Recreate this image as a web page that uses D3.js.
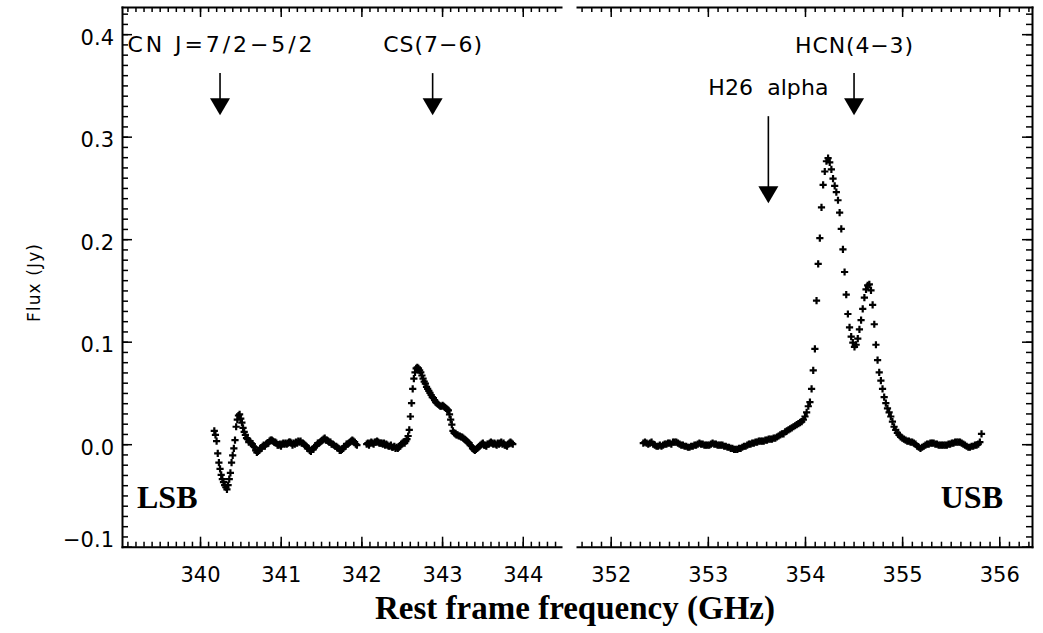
<!DOCTYPE html>
<html>
<head>
<meta charset="utf-8">
<title>LSB / USB spectrum</title>
<script src="https://cdn.jsdelivr.net/npm/d3@7"></script>
<style>
  body { margin: 0; background: #fff; }
  .axis path, .axis line { stroke: #000; }
  .axis path { stroke-width: 2px; stroke-linecap: square; }
  .axis line { stroke-width: 1.5px; }
  .axis text { font-family: "DejaVu Sans", sans-serif; font-size: 21px; fill: #000; }
  .note { font-family: "DejaVu Sans", sans-serif; font-size: 22px; fill: #000; }
  .band { font-family: "Liberation Serif", "Times New Roman", serif; font-weight: bold; font-size: 32px; fill: #000; }
</style>
</head>
<body>
<div class="chart"></div>
<script>
var svgWidth = 1043;
var svgHeight = 633;

// channel grids (GHz)
var lsbStart1 = 340.177;
var lsbStart2 = 342.066;
var lsbStep = 0.014254;
var usbStart = 352.3356;
var usbStep = 0.016984;

// LSB window 1 (CN)
var lsbFlux1 = [
  0.013, 0.009, 0.003, -0.009, -0.018, -0.024, -0.030, -0.034, -0.037, -0.040,
  -0.042, -0.044, -0.040, -0.034, -0.028, -0.018, -0.011, -0.004, 0.004, 0.017,
  0.024, 0.028, 0.029, 0.025, 0.021, 0.016, 0.012, 0.009, 0.006, 0.005,
  0.002, 0.003, 0.001, 0.000, -0.002, -0.003, -0.006, -0.008, -0.007, -0.006,
  -0.004, -0.004, -0.002, -0.001, -0.002, 0.000, 0.001, 0.001, 0.003, 0.004,
  0.004, 0.003, 0.002, 0.002, 0.001, -0.001, -0.001, 0.000, -0.002, 0.000,
  0.001, 0.000, 0.001, 0.000, 0.001, 0.002, 0.002, 0.001, -0.001, 0.001,
  0.000, 0.002, 0.001, 0.003, 0.002, 0.003, 0.001, 0.001, 0.000, -0.001,
  -0.002, -0.004, -0.004, -0.006, -0.007, -0.005, -0.005, -0.003, -0.002, -0.001,
  0.001, 0.001, 0.002, 0.003, 0.004, 0.005, 0.006, 0.004, 0.004, 0.003,
  0.002, 0.002, 0.000, 0.000, -0.001, -0.002, -0.002, -0.003, -0.004, -0.006,
  -0.006, -0.005, -0.004, -0.002, -0.002, 0.000, 0.000, 0.001, 0.002, 0.003,
  0.004, 0.003, 0.002, 0.000, -0.001
];

// LSB window 2 (CS)
var lsbFlux2 = [
  0.000, 0.001, -0.001, 0.001, 0.002, 0.001, 0.000, 0.002, 0.002, 0.003,
  0.002, 0.001, 0.001, 0.001, 0.000, 0.001, -0.001, 0.000, -0.001, -0.002,
  -0.002, -0.001, -0.003, -0.003, -0.002, -0.004, -0.003, -0.004, -0.003, -0.002,
  0.000, 0.001, 0.002, 0.001, 0.003, 0.005, 0.008, 0.014, 0.027, 0.040,
  0.054, 0.064, 0.070, 0.074, 0.075, 0.074, 0.072, 0.070, 0.067, 0.064,
  0.061, 0.059, 0.056, 0.054, 0.052, 0.050, 0.048, 0.046, 0.045, 0.043,
  0.041, 0.040, 0.039, 0.038, 0.037, 0.037, 0.038, 0.037, 0.036, 0.035,
  0.034, 0.033, 0.029, 0.024, 0.019, 0.013, 0.011, 0.010, 0.009, 0.009,
  0.008, 0.008, 0.007, 0.007, 0.006, 0.005, 0.004, 0.003, 0.002, 0.001,
  -0.001, -0.002, -0.004, -0.005, -0.006, -0.005, -0.004, -0.003, -0.002, -0.001,
  0.000, 0.001, -0.001, -0.001, -0.002, 0.000, 0.000, 0.001, 0.002, 0.001,
  0.000, 0.001, 0.000, -0.001, 0.001, 0.000, 0.001, 0.002, 0.000, 0.001,
  -0.001, -0.001, -0.002, 0.000, 0.001, 0.002, 0.001, 0.000
];

// USB window (H26 alpha + HCN)
var usbFlux = [
  0.001, 0.002, 0.001, 0.000, 0.001, 0.002, 0.000, -0.001, -0.002, -0.002,
  -0.001, -0.002, -0.001, 0.000, 0.000, 0.001, 0.001, 0.000, 0.002, 0.002,
  0.002, 0.001, 0.000, -0.001, -0.001, -0.002, -0.002, -0.003, -0.003, -0.002,
  -0.002, -0.001, -0.001, 0.000, 0.001, 0.000, 0.000, -0.001, -0.001, -0.001,
  -0.001, 0.000, 0.001, 0.000, 0.000, -0.001, -0.001, -0.001, -0.001, -0.002,
  -0.002, -0.003, -0.003, -0.004, -0.004, -0.005, -0.005, -0.005, -0.004, -0.004,
  -0.003, -0.002, -0.002, -0.001, 0.000, 0.000, 0.001, 0.001, 0.002, 0.002,
  0.003, 0.003, 0.003, 0.003, 0.004, 0.004, 0.005, 0.005, 0.005, 0.006,
  0.006, 0.007, 0.008, 0.009, 0.010, 0.010, 0.012, 0.013, 0.014, 0.015,
  0.016, 0.017, 0.018, 0.019, 0.020, 0.021, 0.022, 0.024, 0.027, 0.031,
  0.037, 0.041, 0.054, 0.072, 0.093, 0.140, 0.176, 0.201, 0.231, 0.253,
  0.266, 0.276, 0.279, 0.275, 0.268, 0.259, 0.252, 0.246, 0.238, 0.226,
  0.210, 0.190, 0.168, 0.146, 0.127, 0.114, 0.105, 0.099, 0.095, 0.097,
  0.103, 0.112, 0.121, 0.132, 0.143, 0.151, 0.155, 0.156, 0.150, 0.136,
  0.117, 0.097, 0.082, 0.070, 0.062, 0.054, 0.046, 0.040, 0.035, 0.031,
  0.027, 0.022, 0.017, 0.014, 0.011, 0.009, 0.007, 0.006, 0.005, 0.004,
  0.003, 0.003, 0.002, 0.002, 0.001, 0.000, -0.002, -0.003, -0.004, -0.003,
  -0.002, -0.001, 0.000, 0.000, 0.001, 0.001, 0.001, 0.000, 0.000, -0.001,
  -0.001, -0.001, -0.001, -0.001, -0.001, 0.000, 0.000, 0.001, 0.001, 0.002,
  0.002, 0.002, 0.002, 0.001, 0.000, -0.001, -0.002, -0.003, -0.003, -0.002,
  -0.002, -0.001, -0.001, 0.000, 0.002, 0.010
];

// tick labels
var lsbTicks = [340, 341, 342, 343, 344];
var usbTicks = [352, 353, 354, 355, 356];
var fluxTicks = [-0.1, 0.0, 0.1, 0.2, 0.3, 0.4];

// line identifications (rest frequency, GHz)
var lineNames = ["CN J=7/2\u22125/2", "CS(7\u22126)", "H26  alpha", "HCN(4\u22123)"];
var lineFreqs = [340.248, 342.883, 353.623, 354.505];
var lineBands = ["lsb", "lsb", "usb", "usb"];

// annotation layout (flux units for arrow ends, pixels for text)
var arrowTop = [0.362, 0.362, 0.320, 0.362];
var arrowTip = [0.321, 0.321, 0.235, 0.321];
var labelBase = [52, 52, 95, 53];
var labelWidth = [185, 99, 120, 118];

var plotTop = 7, plotBottom = 546.7;

var svg = d3.select(".chart")
  .append("svg")
  .attr("width", svgWidth)
  .attr("height", svgHeight);

var yScale = d3.scaleLinear()
  .domain([-0.1, 0.4265])
  .range([plotBottom, plotTop]);

var xLsb = d3.scaleLinear()
  .domain([339.033, 344.474])
  .range([122, 561]);

var xUsb = d3.scaleLinear()
  .domain([351.653, 356.337])
  .range([577, 1032]);

// minor ticks every 0.1 GHz / 0.01 Jy
function minorTicks(scale, div) {
  var dom = scale.domain();
  return d3.range(Math.ceil(dom[0] * div), Math.floor(dom[1] * div) + 1).map(d => d / div);
}

function addAxis(axis, tx, ty, cls) {
  return svg.append("g")
    .attr("class", "axis " + (cls || ""))
    .attr("transform", `translate(${tx}, ${ty})`)
    .call(axis);
}

function drawFrame(xScale, majors, side) {
  var xr = xScale.range();
  var xMinor = minorTicks(xScale, 10);

  // bottom axis with labels
  var bottom = addAxis(d3.axisBottom(xScale).tickValues(majors).tickSize(-10).tickSizeOuter(0)
    .tickFormat(d3.format("d")), 0, plotBottom);
  bottom.selectAll("text").attr("y", 35).attr("dy", null);
  addAxis(d3.axisBottom(xScale).tickValues(xMinor).tickSize(-5).tickSizeOuter(0).tickFormat(""), 0, plotBottom)
    .select(".domain").remove();

  // top axis
  addAxis(d3.axisTop(xScale).tickValues(majors).tickSize(-10).tickSizeOuter(0).tickFormat(""), 0, plotTop);
  addAxis(d3.axisTop(xScale).tickValues(xMinor).tickSize(-5).tickSizeOuter(0).tickFormat(""), 0, plotTop)
    .select(".domain").remove();

  var yMinor = minorTicks(yScale, 100);
  if (side === "left") {
    var left = addAxis(d3.axisLeft(yScale).tickValues(fluxTicks).tickSize(-10).tickSizeOuter(0)
      .tickPadding(8).tickFormat(d3.format(".1f")), xr[0], 0);
    // keep the lowest label above the x axis
    left.selectAll("text")
      .attr("dy", null)
      .attr("y", d => Math.min(10, plotBottom - yScale(d)));
    addAxis(d3.axisLeft(yScale).tickValues(yMinor).tickSize(-6).tickSizeOuter(0).tickFormat(""), xr[0], 0)
      .select(".domain").remove();
  } else {
    addAxis(d3.axisRight(yScale).tickValues(fluxTicks).tickSize(-10).tickSizeOuter(0).tickFormat(""), xr[1], 0);
    addAxis(d3.axisRight(yScale).tickValues(yMinor).tickSize(-6).tickSizeOuter(0).tickFormat(""), xr[1], 0)
      .select(".domain").remove();
  }
}

drawFrame(xLsb, lsbTicks, "left");
drawFrame(xUsb, usbTicks, "right");

// spectra drawn as plus signs
function plotSpectrum(xScale, start, step, flux) {
  svg.append("g")
    .selectAll("path")
    .data(flux)
    .enter()
    .append("path")
    .attr("transform", (d, i) => `translate(${xScale(start + i * step)}, ${yScale(d)})`)
    .attr("d", "M-3.6,0H3.6M0,-3.6V3.6")
    .attr("stroke", "#000")
    .attr("stroke-width", 2.2)
    .attr("fill", "none");
}

plotSpectrum(xLsb, lsbStart1, lsbStep, lsbFlux1);
plotSpectrum(xLsb, lsbStart2, lsbStep, lsbFlux2);
plotSpectrum(xUsb, usbStart, usbStep, usbFlux);

// line markers
lineNames.forEach(function(name, i) {
  var xScale = lineBands[i] === "lsb" ? xLsb : xUsb;
  var x = xScale(lineFreqs[i]);
  var yTop = yScale(arrowTop[i]);
  var yTip = yScale(arrowTip[i]);
  var headLen = 17;

  svg.append("line")
    .attr("x1", x).attr("x2", x)
    .attr("y1", yTop).attr("y2", yTip - headLen + 1)
    .attr("stroke", "#000")
    .attr("stroke-width", 1.6);

  svg.append("path")
    .attr("d", `M${x - 10},${yTip - headLen}L${x + 10},${yTip - headLen}L${x},${yTip}Z`)
    .attr("fill", "#000");

  svg.append("text")
    .attr("class", "note")
    .attr("x", x)
    .attr("y", labelBase[i])
    .attr("text-anchor", "middle")
    .attr("textLength", labelWidth[i])
    .attr("lengthAdjust", "spacing")
    .style("white-space", "pre")
    .text(name);
});

// band labels
svg.append("text")
  .attr("class", "band")
  .attr("x", 137)
  .attr("y", 508)
  .text("LSB");

svg.append("text")
  .attr("class", "band")
  .attr("x", 1003)
  .attr("y", 508)
  .attr("text-anchor", "end")
  .text("USB");

// axis titles
svg.append("text")
  .attr("class", "band")
  .attr("x", 375)
  .attr("y", 619)
  .attr("textLength", 400)
  .attr("lengthAdjust", "spacingAndGlyphs")
  .style("font-size", "33px")
  .text("Rest frame frequency (GHz)");

svg.append("text")
  .attr("transform", "translate(40, 283) rotate(-90)")
  .attr("text-anchor", "middle")
  .attr("textLength", 78)
  .attr("lengthAdjust", "spacing")
  .style("font-family", "DejaVu Sans, sans-serif")
  .style("font-size", "17px")
  .text("Flux (Jy)");
</script>
</body>
</html>
